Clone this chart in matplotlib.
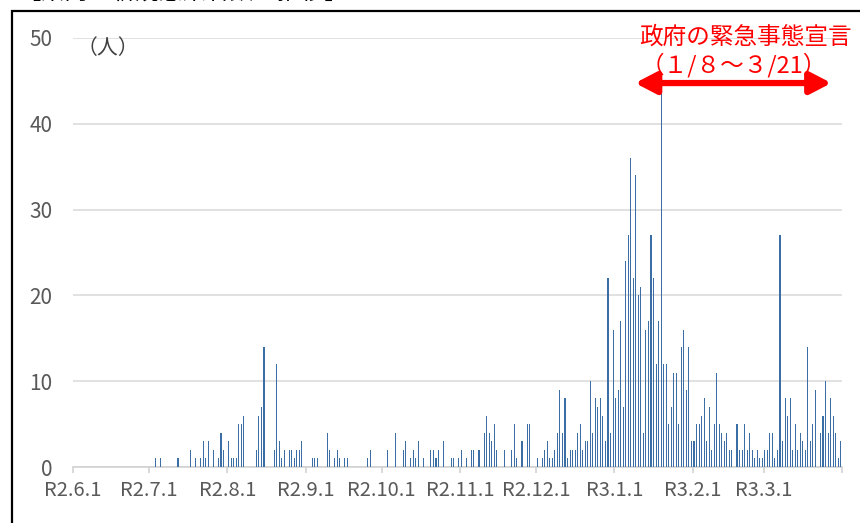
import numpy as np
import pandas as pd
import matplotlib.pyplot as plt
from matplotlib.patches import Rectangle

plt.rcParams['font.family'] = ['Noto Sans CJK JP', 'DejaVu Sans']

# ---------- データ（日別人数, R2.6.1 〜 R3.3.31） ----------
jun = [0] * 30
jul = [0, 0, 1, 0, 1, 0, 0, 0, 0, 0, 0, 1, 0, 0, 0, 0, 2, 0, 1, 0, 1, 3, 1, 3, 0, 2, 0, 1, 4, 2, 0]
aug = [3, 1, 1, 1, 5, 5, 6, 0, 0, 0, 0, 2, 6, 7, 14, 0, 0, 0, 2, 12, 3, 1, 2, 0, 2, 2, 1, 2, 2, 3, 0]
sep = [0, 0, 1, 1, 1, 0, 0, 0, 4, 2, 0, 1, 2, 1, 0, 1, 1, 0, 0, 0, 0, 0, 0, 0, 1, 2, 0, 0, 0, 0]
oct_ = [0, 0, 2, 0, 0, 4, 0, 0, 2, 3, 0, 1, 2, 1, 3, 0, 1, 0, 0, 2, 2, 1, 2, 0, 3, 0, 0, 1, 1, 0, 1]
nov = [2, 0, 1, 0, 2, 2, 0, 2, 0, 4, 6, 4, 3, 5, 2, 0, 0, 2, 0, 0, 2, 5, 1, 0, 3, 0, 5, 5, 0, 0]
dec = [1, 0, 1, 2, 3, 1, 1, 2, 4, 9, 4, 8, 1, 2, 2, 2, 4, 5, 2, 3, 3, 10, 4, 8, 7, 8, 6, 3, 22, 4, 16]
jan = [8, 9, 17, 7, 24, 27, 36, 22, 34, 20, 21, 4, 16, 17, 27, 22, 12, 17, 45, 12, 12, 5, 7, 11, 11,
       5, 14, 16, 9, 14, 3]
feb = [3, 5, 5, 6, 8, 3, 7, 2, 5, 11, 5, 4, 3, 4, 2, 2, 0, 5, 2, 2, 5, 2, 4, 2, 1, 2, 1, 1]
mar = [2, 2, 4, 4, 1, 2, 27, 3, 8, 6, 8, 2, 5, 2, 4, 3, 2, 14, 3, 5, 9, 0, 4, 6, 10, 4, 8, 6, 4, 1, 3]

month_labels = ['R2.6.1', 'R2.7.1', 'R2.8.1', 'R2.9.1', 'R2.10.1', 'R2.11.1',
                'R2.12.1', 'R3.1.1', 'R3.2.1', 'R3.3.1', '']
y_ticks = [0, 10, 20, 30, 40, 50]

title = '【県内の新規感染者数の推移】'
unit_label = '（人）'
period_title = '政府の緊急事態宣言'
period_range = '（１/８～３/21）'

# ---------- 描画 ----------
counts = jun + jul + aug + sep + oct_ + nov + dec + jan + feb + mar
dates = pd.date_range('2020-06-01', periods=len(counts), freq='D')
month_pos = list(np.where(dates.day == 1)[0]) + [len(counts)]

W, H = 860, 523
fig = plt.figure(figsize=(W / 100, H / 100), dpi=100)
ax = fig.add_axes([73 / W, 1 - 467 / H, (842 - 73) / W, (467 - 38) / H])

ax.bar(np.arange(len(counts)) + 0.5, counts, width=0.42, color='#3A6EA5', zorder=3)

ax.set_xlim(0, len(counts))
ax.set_ylim(0, 50)
ax.set_yticks(y_ticks)
ax.set_xticks(month_pos)
ax.set_xticklabels(month_labels)
ax.yaxis.grid(True, color='#D9D9D9', lw=1.1)
ax.set_axisbelow(True)

for s in ['top', 'right', 'left']:
    ax.spines[s].set_visible(False)
ax.spines['bottom'].set_color('#D0D0D0')
ax.spines['bottom'].set_linewidth(1.1)

ax.tick_params(axis='x', direction='out', length=4, width=1.1, color='#D0D0D0',
               labelsize=14.5, labelcolor='#595959', pad=5)
ax.tick_params(axis='y', length=0, labelsize=15, labelcolor='#595959', pad=15)

# 単位
fig.text(108 / W, 1 - 48 / H, unit_label, fontsize=15, color='#404040',
         ha='center', va='center')

# 緊急事態宣言の期間
fig.text(745 / W, 1 - 37 / H, period_title, fontsize=17, color='#FF0000',
         ha='center', va='center')
fig.text(734 / W, 1 - 65 / H, period_range, fontsize=17, color='#FF0000',
         ha='center', va='center')
ax.annotate('', xy=(299.8, 44.75), xytext=(222.2, 44.75),
            arrowprops=dict(arrowstyle='<|-|>,head_length=1.25,head_width=0.65',
                            lw=4.5, color='#FF0000', mutation_scale=10,
                            shrinkA=0, shrinkB=0),
            annotation_clip=False, zorder=5)

# 外枠と見切れたタイトル
fig.patches.append(Rectangle((12 / W, -0.1), 1.1, 1.1 - 11 / H, fill=False,
                             edgecolor='black', lw=1.6, transform=fig.transFigure,
                             clip_on=False))
fig.text(17 / W, 1 - 3.5 / H, title, fontsize=17, color='black', ha='left', va='bottom')

fig.savefig('out.png', dpi=100)
